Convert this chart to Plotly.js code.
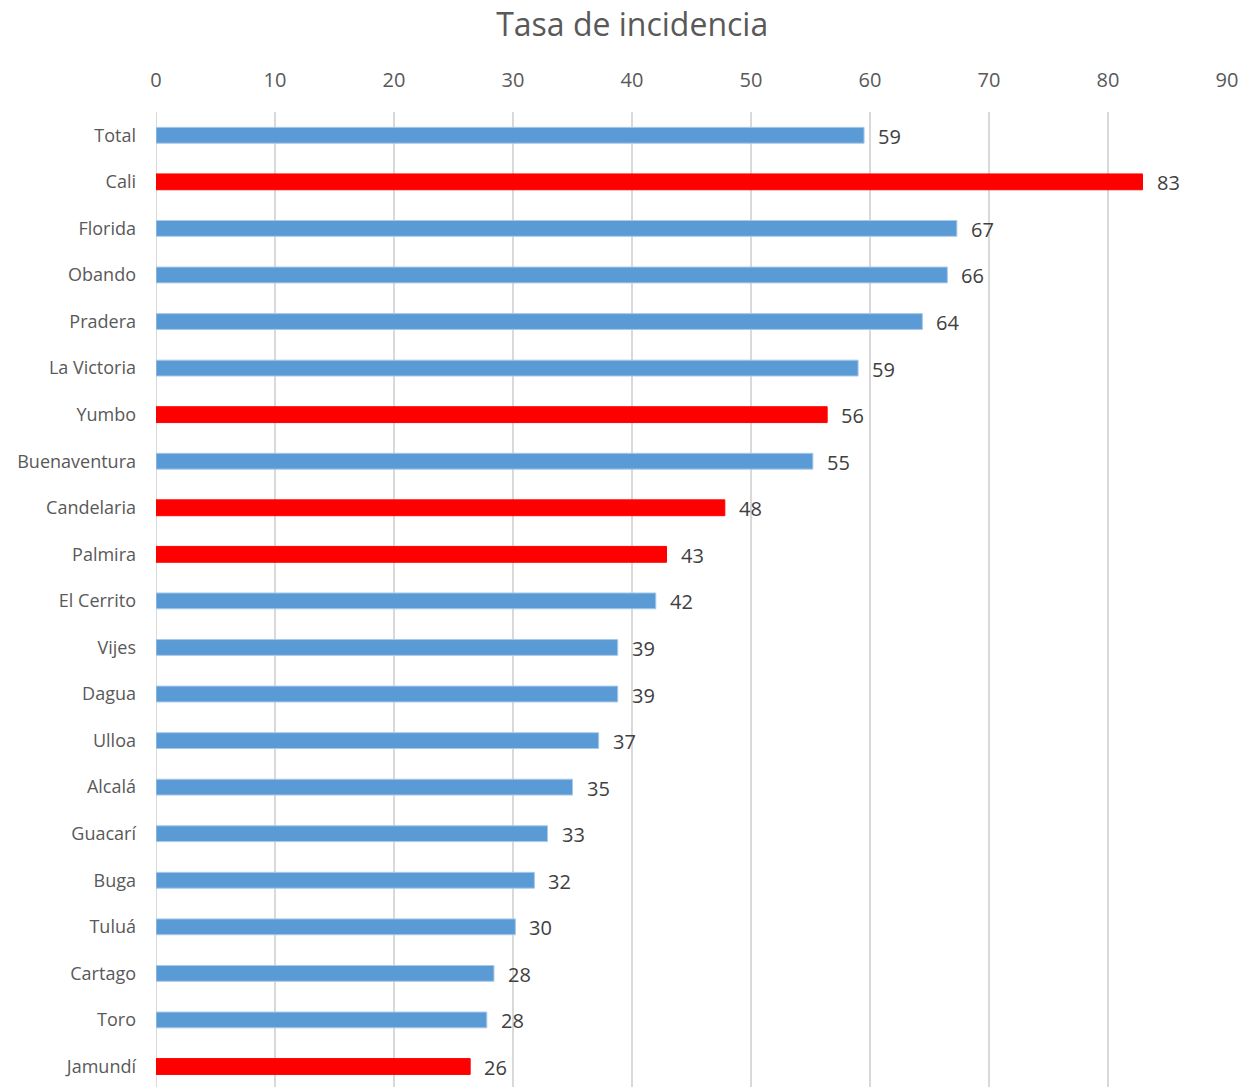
<!DOCTYPE html>
<html>
<head>
<meta charset="utf-8">
<script src="https://cdn.plot.ly/plotly-3.0.1.min.js"></script>
<style>html,body{margin:0;padding:0;background:#fff;}#chart{width:1242px;height:1087px;}</style>
</head>
<body>
<div id="chart"></div>
<script>
const categories = ["Total","Cali","Florida","Obando","Pradera","La Victoria","Yumbo","Buenaventura","Candelaria","Palmira","El Cerrito","Vijes","Dagua","Ulloa","Alcalá","Guacarí","Buga","Tuluá","Cartago","Toro","Jamundí"];
const values = [59.5,82.9,67.3,66.5,64.4,59.0,56.4,55.2,47.8,42.9,42.0,38.8,38.8,37.2,35.0,32.9,31.8,30.2,28.4,27.8,26.4];
const labels = ["59","83","67","66","64","59","56","55","48","43","42","39","39","37","35","33","32","30","28","28","26"];
const highlighted = ["Cali","Yumbo","Candelaria","Palmira","Jamundí"];

const BLUE = "#5b9bd5", RED = "#ff0000";
const colors = categories.map(c => highlighted.includes(c) ? RED : BLUE);
const lineColors = categories.map(c => highlighted.includes(c) ? RED : "#a9c9e8");

const FONT = "'Open Sans', sans-serif";
const trace = {
  type: "bar",
  orientation: "h",
  y: categories,
  x: values,
  width: 0.34,
  marker: {color: colors, line: {color: lineColors, width: 1}},
  hoverinfo: "none"
};

const annotations = categories.map((c, i) => ({
  x: values[i], y: c, xref: "x", yref: "y",
  text: labels[i], showarrow: false, xanchor: "left", yanchor: "middle",
  xshift: 12, yshift: -1,
  font: {family: FONT, size: 20, color: "#404040"}
}));

const layout = {
  width: 1242, height: 1087,
  paper_bgcolor: "#fff", plot_bgcolor: "#fff",
  margin: {l: 156, r: 15, t: 112, b: 0},
  title: {text: "Tasa de incidencia", x: 0.509, xref: "container", xanchor: "center",
          y: 0.977, yref: "container", yanchor: "middle",
          font: {family: FONT, size: 32, color: "#595959"}},
  xaxis: {
    side: "top", range: [0, 90], dtick: 10, tick0: 0,
    showgrid: true, gridcolor: "#d9d9d9", gridwidth: 2,
    zeroline: false, showline: false, ticks: "",
    ticklabelstandoff: 20,
    tickfont: {family: FONT, size: 20, color: "#595959"}
  },
  yaxis: {
    type: "category", range: [20.44, -0.5], showgrid: false, zeroline: false,
    showline: false, ticks: "", ticklabelstandoff: 19,
    tickfont: {family: FONT, size: 18, color: "#595959"}
  },
  shapes: [{type: "line", xref: "x", yref: "paper", x0: 0, x1: 0, y0: 0, y1: 1,
            line: {color: "#d9d9d9", width: 2}, layer: "below"}],
  annotations: annotations,
  showlegend: false,
  bargap: 0.66
};

Plotly.newPlot("chart", [trace], layout, {staticPlot: true, displayModeBar: false});
</script>
</body>
</html>
